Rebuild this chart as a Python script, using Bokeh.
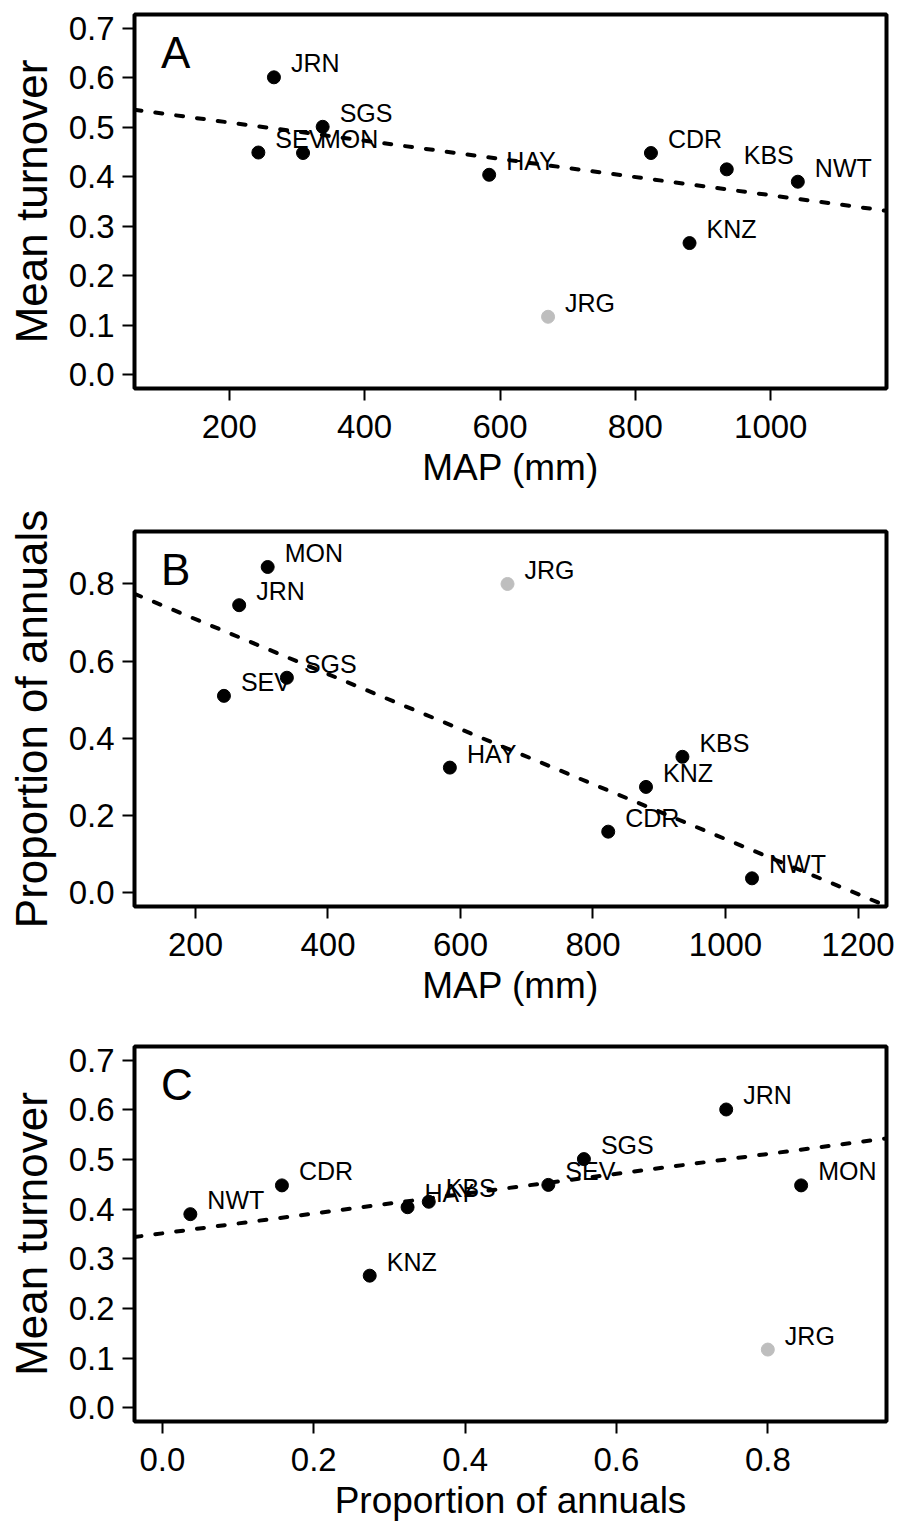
import numpy as np
from bokeh.plotting import figure
from bokeh.models import Range1d, FixedTicker, PrintfTickFormatter, Label, ColumnDataSource
from bokeh.layouts import column
from bokeh.embed import file_html
from bokeh.resources import INLINE
from bokeh.core.properties import value

# ---------------- data ----------------
sites = ["JRN", "SGS", "SEV", "MON", "HAY", "CDR", "KBS", "NWT", "KNZ", "JRG"]
map_mm = [266, 338, 243, 309, 584, 823, 935, 1040, 880, 671]
turnover = [0.601, 0.501, 0.449, 0.448, 0.404, 0.448, 0.415, 0.390, 0.266, 0.117]
annuals = [0.745, 0.557, 0.510, 0.844, 0.324, 0.158, 0.352, 0.037, 0.274, 0.800]
excluded = ["JRG"]  # drawn in grey and left out of the fitted lines

ticks_map_a = [200, 400, 600, 800, 1000]
ticks_map_b = [200, 400, 600, 800, 1000, 1200]
ticks_turnover = [0.0, 0.1, 0.2, 0.3, 0.4, 0.5, 0.6, 0.7]
ticks_annuals_y = [0.0, 0.2, 0.4, 0.6, 0.8]
ticks_annuals_x = [0.0, 0.2, 0.4, 0.6, 0.8]

FONT = "Liberation Sans"


def panel(xv, yv, xr, yr, xticks, yticks, xfmt, yfmt, xlabel, ylabel, letter,
          top, fh, bottom):
    p = figure(frame_width=752, frame_height=fh,
               min_border_left=134, min_border_right=14,
               min_border_top=top, min_border_bottom=bottom,
               x_range=Range1d(*xr), y_range=Range1d(*yr),
               output_backend="svg", toolbar_location=None,
               background_fill_color="white", border_fill_color="white")
    p.grid.visible = False
    p.outline_line_color = "black"
    p.outline_line_width = 4
    p.outline_line_alpha = 1.0

    for ax, ticks, fmt, lab in ((p.xaxis, xticks, xfmt, xlabel), (p.yaxis, yticks, yfmt, ylabel)):
        ax.ticker = FixedTicker(ticks=ticks, minor_ticks=[])
        ax.formatter = PrintfTickFormatter(format=fmt)
        ax.axis_line_color = None
        ax.major_tick_out = 12
        ax.major_tick_in = 0
        ax.major_tick_line_width = 2
        ax.major_tick_line_color = "black"
        ax.minor_tick_line_color = None
        ax.major_label_text_font = FONT
        ax.major_label_text_font_size = "33px"
        ax.major_label_text_color = "black"
        ax.axis_label = lab
        ax.axis_label_text_font = FONT
        ax.axis_label_text_font_style = "normal"
        ax.axis_label_text_color = "black"
    p.xaxis.major_label_standoff = 14
    p.xaxis.axis_label_standoff = 6
    p.xaxis.axis_label_text_font_size = "37px"
    p.yaxis.major_label_standoff = 8
    p.yaxis.axis_label_standoff = 10
    p.yaxis.axis_label_text_font_size = "44px"

    colors = ["#BEBEBE" if s in excluded else "black" for s in sites]
    src = ColumnDataSource(dict(x=xv, y=yv, site=sites, color=colors))
    p.scatter("x", "y", source=src, size=13, color="color", line_color="color")
    p.text("x", "y", text="site", source=src, x_offset=17, y_offset=-14,
           text_font=value(FONT), text_font_size="25px", text_color="black",
           text_align="left", text_baseline="middle")

    # least-squares line (excluding the grey site), drawn across the full panel
    xa = np.array([x for x, s in zip(xv, sites) if s not in excluded])
    ya = np.array([y for y, s in zip(yv, sites) if s not in excluded])
    b1, b0 = np.polyfit(xa, ya, 1)
    lx = [xr[0], xr[1]]
    ly = [b0 + b1 * lx[0], b0 + b1 * lx[1]]
    p.line(lx, ly, line_color="black", line_width=4, line_dash="7 14", line_cap="round")

    lab = Label(x=xr[0] + 0.0352 * (xr[1] - xr[0]),
                y=yr[1] - 0.101 * (yr[1] - yr[0]),
                text=letter, text_font=FONT, text_font_size="44px",
                text_color="black", text_align="left", text_baseline="middle")
    p.add_layout(lab)
    return p


pa = panel(map_mm, turnover, (60, 1171), (-0.028, 0.728), ticks_map_a, ticks_turnover,
           "%d", "%.1f", "MAP (mm)", "Mean turnover", "A", 14, 374, 112)
pb = panel(map_mm, annuals, (108, 1243), (-0.036, 0.936), ticks_map_b, ticks_annuals_y,
           "%d", "%.1f", "MAP (mm)", "Proportion of annuals", "B", 31, 375, 114)
pc = panel(annuals, turnover, (-0.0368, 0.9568), (-0.028, 0.728), ticks_annuals_x, ticks_turnover,
           "%.1f", "%.1f", "Proportion of annuals", "Mean turnover", "C", 26, 375, 100)

layout = column(pa, pb, pc, spacing=0)
open("out.html", "w").write(file_html(layout, INLINE))
